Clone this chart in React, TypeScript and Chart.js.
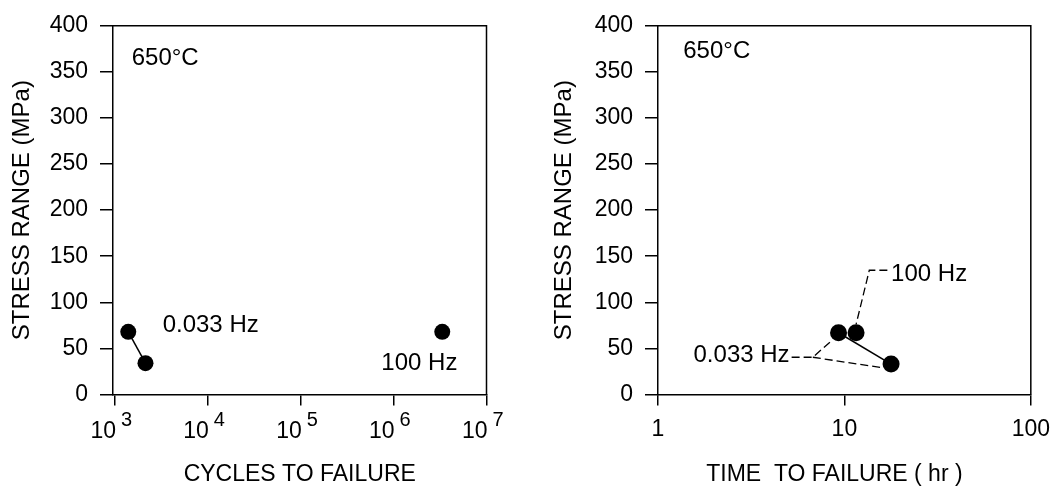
import React, { useEffect, useRef } from "react";
import { Chart, registerables } from "chart.js";

Chart.register(...registerables);

const FONT_FAMILY = "'Liberation Sans', Arial, Helvetica, sans-serif";

// ---- shared axis data ----
const stressTickValues = [0, 50, 100, 150, 200, 250, 300, 350, 400];
const yTitleText = "STRESS RANGE (MPa)";

// ---- left panel: cycles to failure ----
const cycleTickValues = [1e3, 1e4, 1e5, 1e6, 1e7];
const slowCycles = [1390, 2130];
const slowCycleStress = [68, 34];
const fastCycles = [3.34e6];
const fastCycleStress = [68];
const leftXTitle = "CYCLES TO FAILURE";

// ---- right panel: time to failure ----
const hourTickValues = [1, 10, 100];
const slowHours = [9.3, 17.8];
const slowHourStress = [67, 33];
const fastHours = [11.55];
const fastHourStress = [67];
const rightXTitle = "TIME  TO FAILURE ( hr )";

// leader lines (data coordinates)
const slowLeaderUpX = [5.21, 6.77, 8.63];
const slowLeaderUpY = [40.4, 40.4, 59.3];
const slowLeaderDownX = [6.77, 16.0];
const slowLeaderDownY = [40.4, 29];
const fastLeaderX = [17.0, 13.6, 11.55];
const fastLeaderY = [134.8, 134.8, 76];

// text notes
const tempLabel = "650°C";
const slowLabel = "0.033 Hz";
const fastLabel = "100 Hz";
const leftNoteText = [tempLabel, slowLabel, fastLabel];
const leftNoteX = [1513, 3260, 7.38e5];
const leftNoteY = [365, 75, 34];
const leftNoteAlign = ["left", "left", "left"];
const rightNoteText = [tempLabel, slowLabel, fastLabel];
const rightNoteX = [1.366, 5.08, 17.8];
const rightNoteY = [372, 42, 130];
const rightNoteAlign = ["left", "right", "left"];

const zip = (xs: number[], ys: number[]) => xs.map((x, i) => ({ x, y: ys[i] }));

function markerSet(label: string, xs: number[], ys: number[], line: boolean, r: number) {
  return {
    label,
    data: zip(xs, ys),
    showLine: line,
    borderColor: "#000",
    backgroundColor: "#000",
    borderWidth: 1.5,
    pointRadius: r,
    pointHoverRadius: r,
    pointBorderWidth: 0,
    pointBackgroundColor: "#000",
  };
}

function leaderSet(label: string, xs: number[], ys: number[]) {
  return {
    label,
    data: zip(xs, ys),
    showLine: true,
    borderColor: "#000",
    borderWidth: 1.3,
    borderDash: [8, 4],
    pointRadius: 0,
    pointHoverRadius: 0,
  };
}

type PanelSpec = {
  datasets: any[];
  xMin: number;
  xMax: number;
  xTicks: number[];
  superscript: boolean;
  xTitle: string;
  xTitleShift: number;
  yAxisWidth: number;
  yTitlePad: number;
  padRight: number;
  notes: { text: string[]; x: number[]; y: number[]; align: string[] };
};

function buildConfig(spec: PanelSpec): any {
  const decor = {
    id: "panelDecor",
    afterDraw(chart: any) {
      const { ctx, chartArea, scales } = chart;
      const xs = scales.x;
      const ys = scales.y;
      ctx.save();
      // top and right frame lines
      ctx.strokeStyle = "#000";
      ctx.lineWidth = 1.5;
      ctx.beginPath();
      ctx.moveTo(chartArea.left, chartArea.top);
      ctx.lineTo(chartArea.right, chartArea.top);
      ctx.lineTo(chartArea.right, chartArea.bottom);
      ctx.stroke();

      ctx.fillStyle = "#000";
      // notes
      ctx.font = `24px ${FONT_FAMILY}`;
      ctx.textBaseline = "middle";
      spec.notes.text.forEach((t, i) => {
        ctx.textAlign = spec.notes.align[i] as CanvasTextAlign;
        ctx.fillText(t, xs.getPixelForValue(spec.notes.x[i]), ys.getPixelForValue(spec.notes.y[i]));
      });

      // power-of-ten tick labels
      if (spec.superscript) {
        ctx.textBaseline = "alphabetic";
        xs.ticks.forEach((tk: any) => {
          const px = xs.getPixelForValue(tk.value);
          const exp = Math.round(Math.log10(tk.value));
          ctx.font = `23px ${FONT_FAMILY}`;
          ctx.textAlign = "right";
          ctx.fillText("10", px + 1, chartArea.bottom + 43);
          ctx.font = `20px ${FONT_FAMILY}`;
          ctx.textAlign = "left";
          ctx.fillText(String(exp), px + 6, chartArea.bottom + 31);
        });
      }

      // x axis title
      ctx.font = `23px ${FONT_FAMILY}`;
      ctx.textAlign = "center";
      ctx.textBaseline = "middle";
      ctx.fillText(spec.xTitle, (chartArea.left + chartArea.right) / 2 + spec.xTitleShift, chartArea.bottom + 80);
      ctx.restore();
    },
  };

  return {
    type: "scatter",
    data: { datasets: spec.datasets },
    options: {
      animation: false,
      responsive: false,
      devicePixelRatio: 1,
      layout: { padding: { top: 20, right: spec.padRight, bottom: 0, left: 0 } },
      plugins: { legend: { display: false }, tooltip: { enabled: false } },
      events: [],
      scales: {
        x: {
          type: "logarithmic",
          position: "bottom",
          min: spec.xMin,
          max: spec.xMax,
          afterBuildTicks: (s: any) => {
            s.ticks = spec.xTicks.map((v) => ({ value: v }));
          },
          afterFit: (s: any) => {
            s.height = 99.5;
          },
          grid: {
            display: true,
            drawOnChartArea: false,
            drawTicks: true,
            tickLength: 11,
            color: "#000",
            lineWidth: 1.5,
          },
          border: { display: true, color: "#000", width: 1.5 },
          ticks: {
            display: !spec.superscript,
            color: "#000",
            font: { family: FONT_FAMILY, size: 23 },
            padding: 10,
            maxRotation: 0,
            autoSkip: false,
            callback: (v: any) => String(v),
          },
          title: { display: false },
        },
        y: {
          type: "linear",
          position: "left",
          min: 0,
          max: 400,
          afterBuildTicks: (s: any) => {
            s.ticks = stressTickValues.map((v) => ({ value: v }));
          },
          afterFit: (s: any) => {
            s.width = spec.yAxisWidth;
          },
          grid: {
            display: true,
            drawOnChartArea: false,
            drawTicks: true,
            tickLength: 13,
            color: "#000",
            lineWidth: 1.5,
          },
          border: { display: true, color: "#000", width: 1.5 },
          ticks: {
            color: "#000",
            font: { family: FONT_FAMILY, size: 23 },
            padding: 12,
            callback: (v: any) => String(v),
          },
          title: {
            display: true,
            text: yTitleText,
            color: "#000",
            font: { family: FONT_FAMILY, size: 24 },
            padding: { top: spec.yTitlePad, bottom: 0 },
          },
        },
      },
    },
    plugins: [decor],
  };
}

const leftSpec: PanelSpec = {
  datasets: [
    markerSet(slowLabel, slowCycles, slowCycleStress, true, 8),
    markerSet(fastLabel, fastCycles, fastCycleStress, false, 8),
  ],
  xMin: 952,
  xMax: 1e7,
  xTicks: cycleTickValues,
  superscript: true,
  xTitle: leftXTitle,
  xTitleShift: 0,
  yAxisWidth: 113,
  yTitlePad: 7.6,
  padRight: 43.5,
  notes: { text: leftNoteText, x: leftNoteX, y: leftNoteY, align: leftNoteAlign },
};

const rightSpec: PanelSpec = {
  datasets: [
    markerSet(slowLabel, slowHours, slowHourStress, true, 8.5),
    markerSet(fastLabel, fastHours, fastHourStress, false, 8.5),
    leaderSet("leader-a", slowLeaderUpX, slowLeaderUpY),
    leaderSet("leader-b", slowLeaderDownX, slowLeaderDownY),
    leaderSet("leader-c", fastLeaderX, fastLeaderY),
  ],
  xMin: 1,
  xMax: 100,
  xTicks: hourTickValues,
  superscript: false,
  xTitle: rightXTitle,
  xTitleShift: -10,
  yAxisWidth: 128,
  yTitlePad: 19.6,
  padRight: 27.5,
  notes: { text: rightNoteText, x: rightNoteX, y: rightNoteY, align: rightNoteAlign },
};

function Panel({ spec, left }: { spec: PanelSpec; left: number }) {
  const ref = useRef<HTMLCanvasElement>(null);
  useEffect(() => {
    const chart = new Chart(ref.current as HTMLCanvasElement, buildConfig(spec));
    return () => chart.destroy();
  }, []);
  return (
    <canvas
      ref={ref}
      width={530}
      height={494}
      style={{ position: "absolute", left, top: 0, width: 530, height: 494 }}
    />
  );
}

export default function App() {
  return (
    <div style={{ position: "absolute", left: 0, top: 0, width: 1060, height: 494, background: "#fff" }}>
      <Panel spec={leftSpec} left={0} />
      <Panel spec={rightSpec} left={530} />
    </div>
  );
}
